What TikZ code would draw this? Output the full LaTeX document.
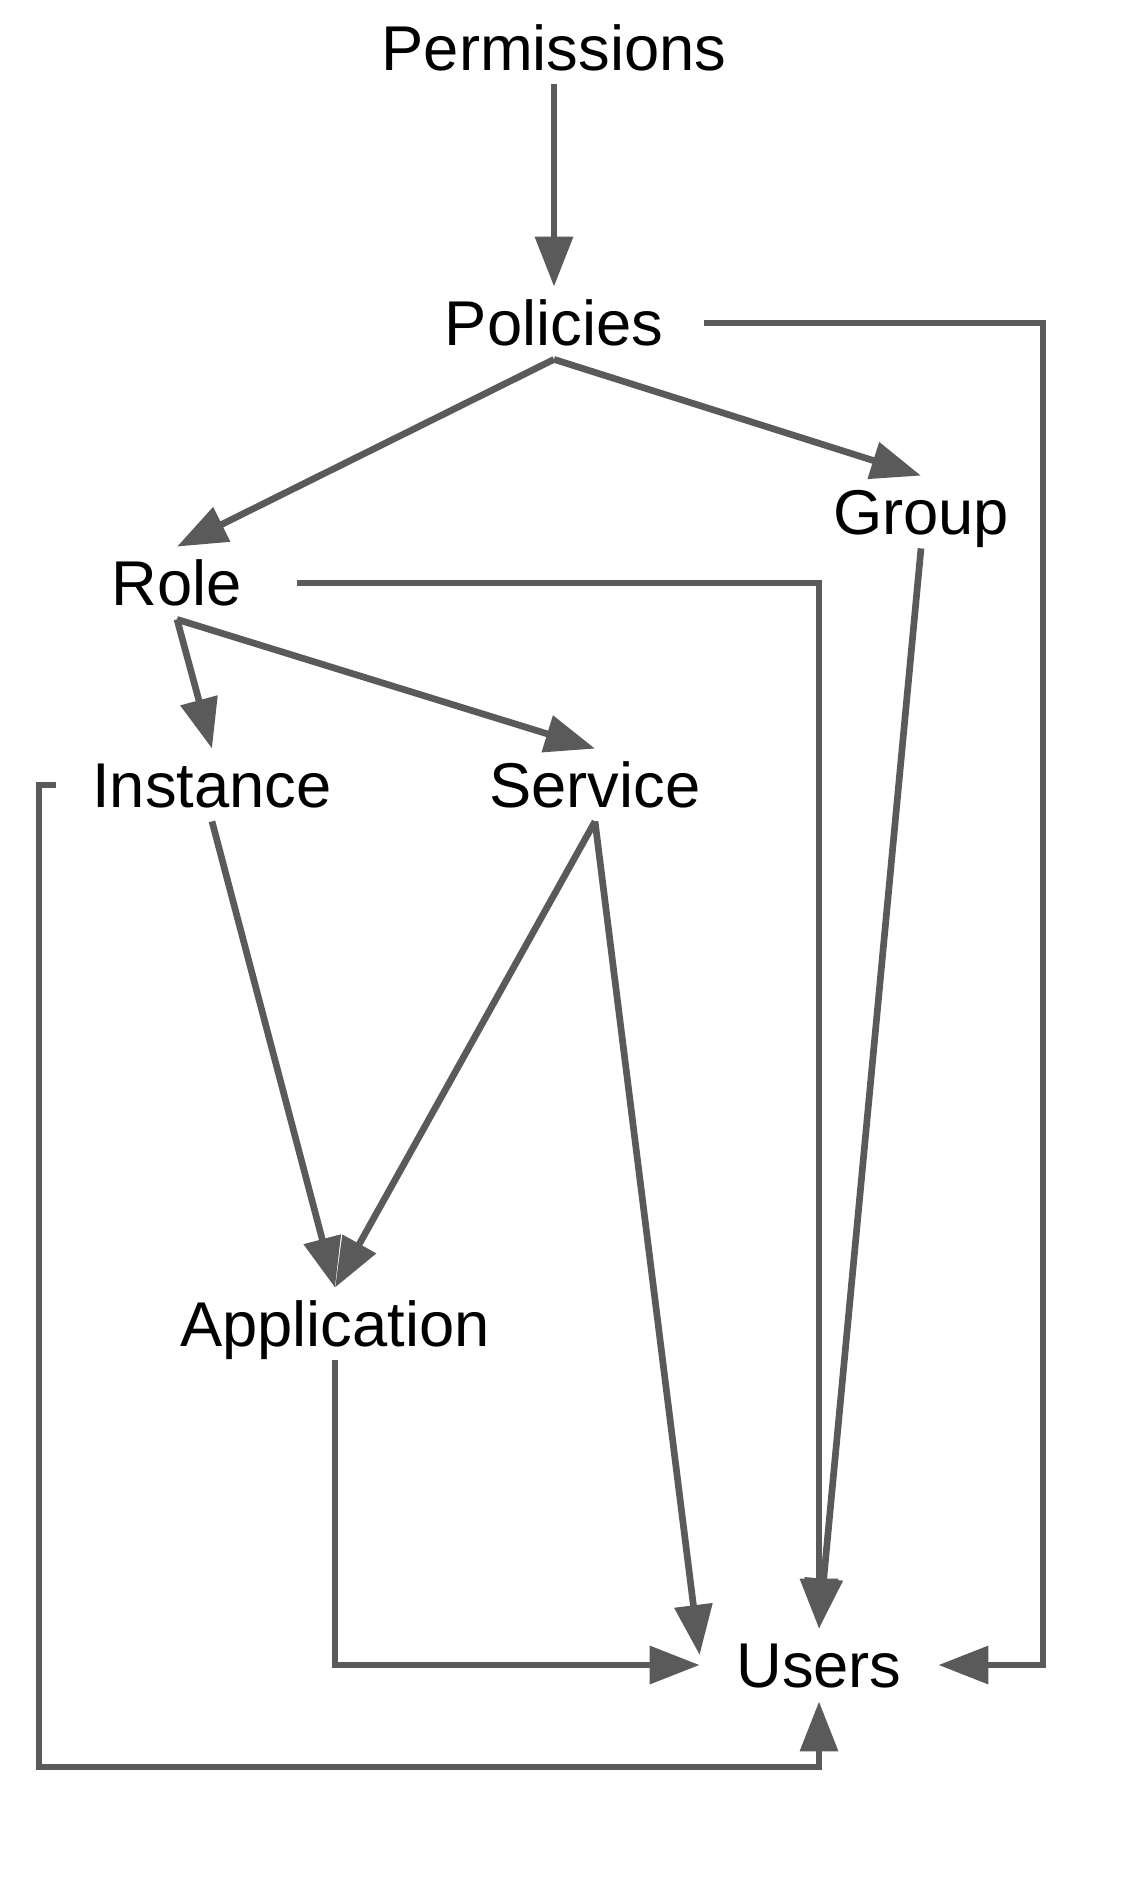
\documentclass[tikz,border=0pt]{standalone}
\usepackage{fontspec}
\setmainfont{Liberation Sans}
\usepackage{xcolor}
\usepackage{tikz}
\usetikzlibrary{arrows.meta, positioning}
\definecolor{edgegray}{HTML}{5A5A5A}

\begin{document}
\begin{tikzpicture}[
  x=0.01cm, y=-0.01cm,
  ent/.style={inner xsep=0.36cm, inner ysep=0.13cm, text height=12.9pt,
    text depth=0pt, font=\fontsize{18}{22}\selectfont},
  conn/.style={draw=edgegray, line width=1.9pt,
    -{Triangle[length=5mm, width=3.7mm]}},
]
  \useasboundingbox (0,0) rectangle (1133,1888);
  % entities
  \node[ent] (perm) at (554,48) {Permissions};
  \node[ent, inner xsep=0.4cm] (pol) at (554,323) {Policies};
  \node[ent] (grp) at (921,512) {Group};
  \node[ent, inner xsep=0.54cm] (role) at (177,583) {Role};
  \node[ent] (inst) at (212,785) {Instance};
  \node[ent] (serv) at (595,785) {Service};
  \node[ent] (app) at (335,1324) {Application};
  \node[ent] (users) at (819,1665) {Users};
  % bends of the outer connectors
  \coordinate (rr) at (1043,0);
  \coordinate (ll) at (39,1767);
  % connectors
  \draw[conn] (perm.south) -- (pol.north);
  \draw[conn] (pol.south) -- (role.north);
  \draw[conn] (pol.south) -- (grp.north);
  \draw[conn] (pol.east) -- (pol.east -| rr) |- (users.east);
  \draw[conn] (role.south) -- (inst.north);
  \draw[conn] (role.south) -- (serv.north);
  \draw[conn] (role.east) -| (users.north);
  \draw[conn] (grp.south) -- (users.north);
  \draw[conn] (inst.south) -- (app.north);
  \draw[conn] (serv.south) -- (app.north);
  \draw[conn] (serv.south) -- ([yshift=0.1cm]users.west);
  \draw[conn] (inst.west) -| (ll) -| (users.south);
  \draw[conn] (app.south) |- (users.west);
\end{tikzpicture}
\end{document}
